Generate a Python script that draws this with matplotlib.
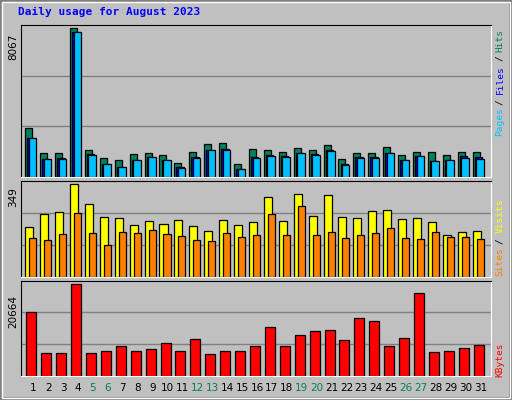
import matplotlib
matplotlib.use("Agg")
import matplotlib.pyplot as plt
import numpy as np

days = list(range(1, 32))
weekend = [5, 6, 12, 13, 19, 20, 26, 27]

hits = [2610, 1278, 1278, 8067, 1442, 1004, 894, 1223, 1278, 1168, 730, 1332, 1770, 1825, 675, 1497,
        1442, 1332, 1551, 1442, 1716, 949, 1278, 1278, 1606, 1168, 1332, 1332, 1168, 1332, 1332]
files = [2099, 949, 1004, 7848, 1223, 675, 511, 894, 1059, 894, 511, 1059, 1442, 1497, 402, 1059,
         1168, 1113, 1278, 1223, 1442, 675, 1059, 1059, 1278, 894, 1113, 840, 894, 1113, 1059]
pages = [2099, 949, 949, 7848, 1168, 675, 511, 894, 1059, 894, 456, 1004, 1442, 1442, 402, 1004,
         1113, 1059, 1278, 1168, 1387, 620, 1004, 1004, 1278, 894, 1113, 840, 894, 1004, 949]
visits = [186, 236, 243, 349, 273, 224, 220, 194, 209, 198, 213, 190, 171, 213, 194, 205,
          300, 209, 311, 228, 307, 224, 220, 247, 251, 217, 220, 205, 156, 168, 171]
sites = [145, 137, 160, 239, 164, 118, 168, 164, 175, 160, 152, 137, 134, 164, 149, 156,
         236, 156, 266, 156, 168, 145, 156, 164, 183, 145, 141, 168, 149, 149, 141]
kbytes = [14326, 5052, 5052, 20664, 5052, 5504, 6635, 5504, 5957, 7314, 5504, 8219, 4826, 5504, 5504, 6635,
          10933, 6635, 9123, 10028, 10254, 7992, 12969, 12290, 6635, 8445, 18624, 5278, 5504, 6183, 6861]

BG = "#C0C0C0"
W, H = 512, 400
fig = plt.figure(figsize=(5.12, 4.0), dpi=100, facecolor=BG)

def px(x, y):
    return x / W, 1 - y / H

# 3D frame around the image
fig.patches.append(plt.Rectangle((0, 0), 1, 1, transform=fig.transFigure, fill=False,
                                 edgecolor="#808080", lw=4))
fig.patches.append(plt.Rectangle((0.003, 0.004), 0.994, 0.992, transform=fig.transFigure, fill=False,
                                 edgecolor="white", lw=1))

fig.text(*px(18, 12), "Daily usage for August 2023", color="#0000FF", fontsize=8,
         family="DejaVu Sans Mono", weight="bold", va="center")

x = np.array(days)
left, width = 20.7 / W, 470 / W
panels = [(25, 176.7), (181, 276.7), (280.7, 375.7)]
axes = []
for top, bot in panels:
    ax = fig.add_axes([left, 1 - bot / H, width, (bot - top) / H])
    ax.set_facecolor(BG)
    ax.set_xlim(0.155, 31.67)
    ax.set_xticks([])
    ax.set_yticks([])
    for s in ["top", "left"]:
        ax.spines[s].set_color("black")
    for s in ["bottom", "right"]:
        ax.spines[s].set_color("white")
    axes.append(ax)

def grid(ax, ymax):
    for f in (1 / 3, 2 / 3):
        ax.axhline(ymax * f, color="#808080", lw=1, zorder=0)

ax1, ax2, ax3 = axes
ax1.set_ylim(0, 8213)
grid(ax1, 8213)
ax1.bar(x - 0.54, hits, width=0.47, align="edge", color="#008060", edgecolor="black", lw=0.9)
ax1.bar(x - 0.40, files, width=0.5, align="edge", color="#0000FF", edgecolor="black", lw=0.9)
ax1.bar(x - 0.30, pages, width=0.5, align="edge", color="#00C0FF", edgecolor="black", lw=0.9)

ax2.set_ylim(0, 359)
grid(ax2, 359)
ax2.bar(x - 0.54, visits, width=0.54, align="edge", color="#FFFF00", edgecolor="black", lw=0.9)
ax2.bar(x - 0.27, sites, width=0.47, align="edge", color="#FF8000", edgecolor="black", lw=0.9)

ax3.set_ylim(0, 21494)
grid(ax3, 21494)
ax3.bar(x - 0.47, kbytes, width=0.67, align="edge", color="#FF0000", edgecolor="black", lw=0.9)

# day labels
for d in days:
    fig.text(*px(33.3 + (d - 1) * 14.91, 388), str(d), ha="center", va="center", fontsize=7.5,
             color="#008060" if d in weekend else "black")

# max value labels
mono = "DejaVu Sans Mono"
for ypx, val in [(47, "8067"), (197, "349"), (312, "20664")]:
    fig.text(*px(13, ypx), val, rotation=90, ha="center", va="center", fontsize=7.5)

# right side rotated labels
def side(pieces):
    for ypx, txt, col in pieces:
        fig.text(*px(500, ypx), txt, rotation=90, ha="center", va="center", fontsize=6.8,
                 family=mono, color=col)

side([(41, "Hits", "#008060"), (58, "/", "black"), (80, "Files", "#0000FF"),
      (102, "/", "black"), (122, "Pages", "#00C0FF")])
side([(216, "Visits", "#FFFF00"), (241, "/", "black"), (262, "Sites", "#FF8000")])
side([(360, "KBytes", "#FF0000")])

fig.savefig("out.png", dpi=100, facecolor=BG)
